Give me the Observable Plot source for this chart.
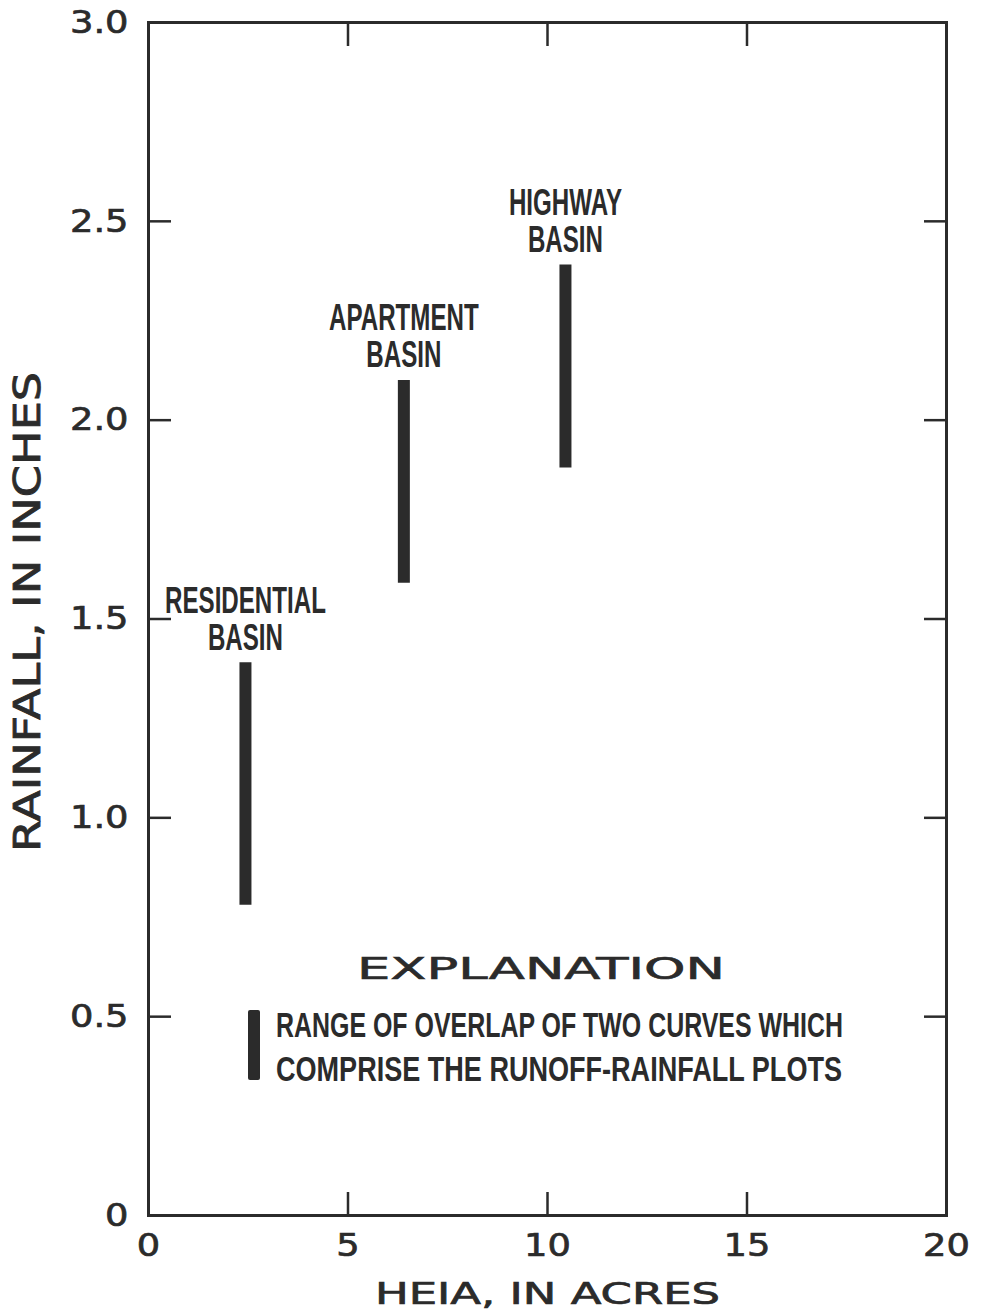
<!DOCTYPE html>
<html>
<head>
<meta charset="utf-8">
<script src="https://cdn.jsdelivr.net/npm/d3@7"></script>
<script src="https://cdn.jsdelivr.net/npm/@observablehq/plot@0.6"></script>
<style>
  html, body { margin: 0; padding: 0; background: #fff; }
  #chart svg { display: block; }
</style>
</head>
<body>
<div id="chart"></div>
<script>
// ---- data ----
const basins = ["RESIDENTIAL", "APARTMENT", "HIGHWAY"];
const basinSuffix = "BASIN";
const heia = [2.43, 6.4, 10.45];            // acres
const rainLow = [0.78, 1.59, 1.88];         // inches
const rainHigh = [1.39, 2.10, 2.39];        // inches
const xTicks = [0, 5, 10, 15, 20];
const yTicks = [0, 0.5, 1.0, 1.5, 2.0, 2.5, 3.0];
const xInner = [5, 10, 15];
const yInner = [0.5, 1.0, 1.5, 2.0, 2.5];
const xTitle = "HEIA, IN ACRES";
const yTitle = "RAINFALL, IN INCHES";
const legendTitle = "EXPLANATION";
const legendLines = ["RANGE OF OVERLAP OF TWO CURVES WHICH", "COMPRISE THE RUNOFF-RAINFALL PLOTS"];

const rows = basins.map((b, i) => ({basin: b, heia: heia[i], lo: rainLow[i], hi: rainHigh[i]}));

const ink = "#2b2b2b";
const geo = "'DejaVu Sans', Lato, sans-serif";
const narrow = "'Liberation Sans', Arial, sans-serif";
const fmtY = d => d === 0 ? "0" : d.toFixed(1);

const plot = Plot.plot({
  width: 985,
  height: 1313,
  marginLeft: 148,
  marginRight: 39,
  marginTop: 22,
  marginBottom: 98,
  style: {background: "#fff", color: ink},
  x: {domain: [0, 20]},
  y: {domain: [0, 3]},
  marks: [
    // tick labels
    Plot.axisX(xTicks, {anchor: "bottom", tickSize: 0, tickPadding: 18, fontSize: 32, fontFamily: geo, fill: ink, label: null}),
    Plot.axisY(yTicks, {anchor: "left", tickSize: 0, tickPadding: 20, tickFormat: fmtY, fontSize: 32, fontFamily: geo, fill: ink, label: null}),
    // inward ticks on all four sides
    Plot.axisX(xInner, {anchor: "bottom", tickSize: -23, strokeWidth: 2.5, stroke: ink, tickFormat: () => "", label: null}),
    Plot.axisX(xInner, {anchor: "top", tickSize: -23, strokeWidth: 2.5, stroke: ink, tickFormat: () => "", label: null}),
    Plot.axisY(yInner, {anchor: "left", tickSize: -23, strokeWidth: 2.5, stroke: ink, tickFormat: () => "", label: null}),
    Plot.axisY(yInner, {anchor: "right", tickSize: -23, strokeWidth: 2.5, stroke: ink, tickFormat: () => "", label: null}),
    Plot.frame({stroke: ink, strokeWidth: 3}),
    // range bars
    Plot.ruleX(rows, {x: "heia", y1: "lo", y2: "hi", stroke: ink, strokeWidth: 12, strokeLinecap: "butt"}),
    // basin labels (two lines)
    Plot.text(rows, {x: "heia", y: "hi", text: "basin", lineAnchor: "bottom", dy: -50,
      fontSize: 36, fontWeight: "bold", fontFamily: narrow, fill: ink}),
    Plot.text(rows, {x: "heia", y: "hi", text: () => basinSuffix, lineAnchor: "bottom", dy: -13,
      fontSize: 36, fontWeight: "bold", fontFamily: narrow, fill: ink}),
    // axis titles
    Plot.text([xTitle], {text: d => d, frameAnchor: "bottom", lineAnchor: "middle", textAnchor: "middle", dy: 79,
      fontSize: 31, fontFamily: geo, fill: ink}),
    Plot.text([yTitle], {text: d => d, frameAnchor: "left", lineAnchor: "middle", textAnchor: "middle", rotate: -90,
      dx: -120, dy: -7, fontSize: 37, fontFamily: geo, fill: ink})
  ]
});

document.getElementById("chart").appendChild(plot);
const svg = d3.select(plot);
const basinSet = new Set([...basins, basinSuffix]);

svg.selectAll("text").each(function () {
  const t = this.textContent;
  const s = d3.select(this);
  if (basinSet.has(t)) {
    // condensed stencil-like labels
    s.attr("textLength", this.getComputedTextLength() * 0.67).attr("lengthAdjust", "spacingAndGlyphs");
  } else if (t === xTitle) {
    s.attr("textLength", 345).attr("lengthAdjust", "spacingAndGlyphs").attr("stroke", ink).attr("stroke-width", 0.7);
  } else if (t === yTitle) {
    s.attr("textLength", 480).attr("lengthAdjust", "spacingAndGlyphs").attr("stroke", ink).attr("stroke-width", 0.8);
  }
});
svg.selectAll('g[aria-label="x-axis tick label"] text, g[aria-label="y-axis tick label"] text').each(function () {
  d3.select(this).attr("textLength", this.getComputedTextLength() * 1.15).attr("lengthAdjust", "spacingAndGlyphs")
    .attr("stroke", ink).attr("stroke-width", 0.7);
});

// ---- legend (explanation box, inside frame) ----
const g = svg.append("g").attr("fill", ink).attr("text-anchor", "start");
g.append("text")
  .attr("x", 357).attr("y", 968).attr("dy", "0.36em")
  .attr("font-family", geo).attr("font-size", 30)
  .attr("stroke", ink).attr("stroke-width", 0.6)
  .attr("textLength", 368).attr("lengthAdjust", "spacingAndGlyphs")
  .text(legendTitle);
g.append("rect").attr("x", 248).attr("y", 1010).attr("width", 12).attr("height", 70).attr("rx", 2);
legendLines.forEach((t, i) => {
  g.append("g")
    .attr("transform", `translate(276,${1024 + i * 44}) scale(1,1.5)`)
    .append("text")
    .attr("dy", "0.36em")
    .attr("font-family", narrow).attr("font-weight", "bold").attr("font-size", 24)
    .attr("textLength", i === 0 ? 567 : 566).attr("lengthAdjust", "spacingAndGlyphs")
    .text(t);
});
</script>
</body>
</html>
